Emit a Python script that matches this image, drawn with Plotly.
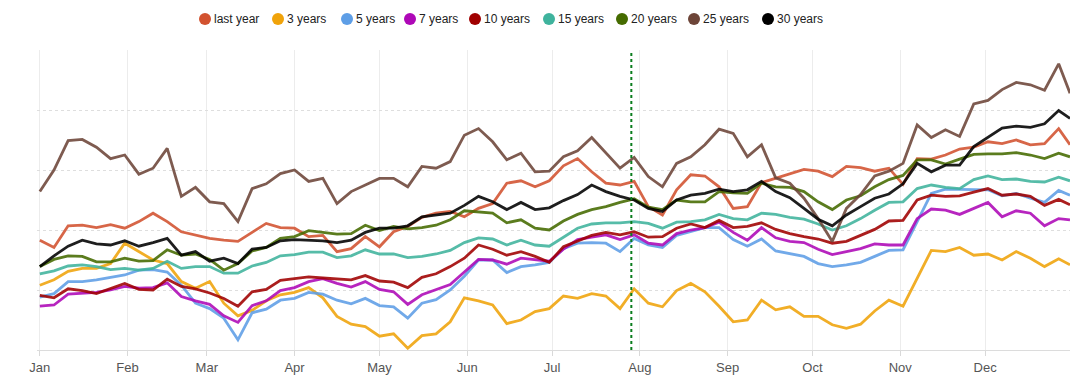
import pandas as pd
import plotly.graph_objects as go

# sample dates: every 5 days from Jan 1, plus Dec 31
dates = list(pd.date_range("2023-01-01", "2023-12-27", freq="5D")) + [pd.Timestamp("2023-12-31")]

last_year = [18.3, 17.1, 20.7, 20.8, 20.4, 20.9, 20.3, 21.4, 22.8, 21.4, 19.7, 19.2, 18.6,
             18.3, 18.1, 19.6, 21.1, 20.4, 20.3, 18.9, 19.1, 16.4, 16.9, 18.9, 17.2,
             19.7, 20.6, 22.1, 22.8, 23.1, 22.2, 23.6, 24.4, 27.8, 28.2, 27.2, 28.2,
             30.7, 31.9, 29.7, 27.8, 27.5, 28.1, 23.9, 22.5, 26.7, 29.2, 29.0, 27.2,
             23.6, 23.9, 27.9, 28.6, 29.3, 30.1, 29.8, 28.9, 30.6, 30.4, 29.8, 30.3,
             27.6, 31.9, 31.8, 32.5, 33.5, 33.8, 34.7, 34.4, 35.0, 34.2, 34.4, 36.9, 34.2]
years_3 = [10.8, 11.7, 13.1, 13.6, 13.6, 14.4, 17.8, 16.4, 15.0, 14.4, 11.4, 10.3, 11.4,
           7.8, 5.7, 6.6, 8.2, 9.2, 9.6, 10.4, 8.7, 5.6, 4.3, 3.9, 2.3,
           2.7, 0.3, 2.4, 2.7, 4.7, 8.7, 8.2, 7.5, 4.4, 5.0, 6.4, 6.9,
           9.0, 8.6, 9.4, 9.0, 6.9, 10.2, 7.8, 7.2, 9.9, 11.1, 9.7, 7.3,
           4.7, 5.0, 8.3, 6.7, 7.2, 5.6, 5.6, 4.2, 3.6, 4.3, 6.5, 8.3,
           7.3, 11.9, 16.6, 16.4, 17.1, 15.8, 16.0, 15.0, 16.4, 15.3, 13.9, 15.2, 14.2]
years_5 = [8.8, 9.4, 11.4, 11.4, 11.7, 12.1, 12.5, 13.3, 13.4, 13.0, 10.8, 7.8, 6.9,
           5.3, 1.7, 6.2, 6.8, 8.3, 8.6, 9.6, 9.3, 8.3, 7.7, 8.6, 7.4,
           7.2, 5.3, 7.8, 8.4, 10.0, 12.3, 15.0, 15.0, 12.9, 13.9, 14.2, 14.6,
           16.9, 17.8, 17.9, 17.8, 16.4, 18.6, 17.5, 17.1, 19.1, 19.8, 20.4, 20.4,
           18.4, 17.3, 18.5, 16.5, 16.1, 15.6, 14.4, 13.9, 14.2, 14.6, 15.6, 16.6,
           16.7, 21.4, 26.1, 26.8, 26.8, 26.7, 26.7, 25.7, 26.1, 25.3, 24.6, 26.6, 25.8]
years_7 = [7.3, 7.5, 9.3, 9.5, 9.6, 10.0, 10.6, 10.3, 10.4, 11.2, 8.9, 8.2, 7.6,
           5.7, 4.6, 7.4, 8.2, 9.9, 10.4, 11.4, 11.9, 11.1, 10.5, 11.4, 10.1,
           9.7, 7.6, 9.2, 10.1, 10.9, 13.0, 15.1, 15.0, 14.3, 15.3, 15.0, 14.8,
           16.8, 18.4, 18.8, 19.2, 18.4, 19.2, 17.8, 17.5, 19.4, 20.0, 20.4, 21.3,
           19.6, 18.3, 20.4, 18.7, 18.1, 17.9, 16.8, 15.9, 16.4, 16.9, 17.7, 17.5,
           17.5, 21.9, 23.5, 23.3, 22.6, 23.6, 24.6, 22.2, 23.2, 22.8, 20.7, 21.9, 21.7]
years_10 = [9.1, 8.7, 10.2, 9.9, 9.4, 10.3, 11.1, 10.1, 10.0, 11.8, 10.6, 10.2, 9.5,
            8.6, 7.3, 9.7, 10.1, 11.6, 11.9, 12.2, 12.0, 11.8, 11.7, 12.4, 11.5,
            11.3, 10.4, 12.1, 12.7, 13.9, 15.3, 17.5, 16.8, 15.8, 16.4, 15.6, 14.6,
            17.2, 18.2, 19.1, 19.6, 19.2, 19.7, 18.8, 18.9, 20.3, 21.0, 20.4, 21.6,
            20.4, 20.6, 21.2, 20.1, 19.4, 18.9, 18.5, 17.8, 18.1, 19.1, 20.1, 21.5,
            21.6, 25.0, 25.8, 25.6, 25.7, 26.3, 26.9, 25.8, 26.0, 25.6, 24.1, 25.1, 24.2]
years_15 = [12.7, 13.2, 14.0, 14.2, 13.9, 13.4, 13.6, 13.3, 13.6, 14.8, 13.6, 13.9, 13.9,
            12.8, 12.8, 14.0, 14.6, 15.7, 15.9, 16.3, 16.3, 15.4, 15.7, 16.7, 16.0,
            16.0, 15.4, 15.6, 16.0, 16.6, 17.9, 18.7, 18.5, 17.5, 18.3, 17.5, 17.3,
            18.8, 20.3, 21.0, 21.2, 21.2, 21.4, 21.1, 20.3, 21.3, 21.4, 21.7, 22.6,
            21.9, 21.7, 22.8, 22.6, 22.1, 21.8, 21.0, 20.0, 20.7, 21.9, 23.3, 24.6,
            24.7, 26.9, 27.5, 27.1, 26.9, 28.4, 29.0, 28.4, 28.5, 28.1, 28.0, 28.8, 28.2]
years_20 = [13.9, 15.1, 15.7, 15.6, 14.7, 14.7, 15.3, 14.8, 14.9, 16.7, 15.8, 16.0, 15.1,
            13.3, 14.4, 16.5, 17.1, 18.6, 18.9, 19.9, 19.6, 19.3, 19.4, 20.8, 19.9,
            20.6, 20.2, 20.4, 20.8, 21.7, 23.2, 23.0, 22.8, 21.2, 21.7, 20.3, 20.0,
            21.5, 22.6, 23.4, 23.9, 24.6, 25.2, 23.8, 23.4, 25.0, 24.7, 24.7, 26.4,
            26.2, 26.1, 27.8, 27.2, 27.1, 26.4, 24.7, 23.4, 25.0, 25.7, 27.2, 28.4,
            29.1, 31.7, 31.7, 31.0, 31.8, 32.6, 32.7, 32.7, 32.9, 32.5, 31.9, 32.8, 32.2]
years_25 = [26.4, 30.0, 34.9, 35.1, 33.8, 31.9, 32.5, 29.3, 30.3, 33.6, 25.6, 27.1, 24.7,
            24.4, 21.4, 26.9, 27.7, 29.4, 30.0, 28.1, 28.6, 24.4, 26.4, 27.5, 28.6,
            28.6, 27.2, 30.6, 30.3, 31.4, 35.8, 36.9, 34.7, 31.7, 32.8, 29.7, 29.8,
            32.2, 33.2, 35.4, 32.8, 30.3, 32.1, 28.9, 27.2, 31.1, 32.2, 34.2, 36.8,
            36.1, 32.2, 34.2, 28.7, 27.8, 25.3, 21.9, 18.1, 23.6, 25.9, 29.0, 29.8,
            31.1, 37.5, 35.4, 36.7, 35.6, 41.0, 41.6, 43.4, 44.6, 44.2, 43.3, 47.7, 42.8]
years_30 = [13.9, 15.7, 17.3, 18.3, 17.7, 17.5, 18.2, 17.3, 17.9, 18.6, 15.8, 16.4, 14.8,
            15.3, 14.4, 16.8, 17.1, 18.2, 18.4, 18.3, 18.2, 17.9, 18.3, 19.6, 20.3,
            20.3, 20.7, 22.2, 22.5, 22.8, 24.1, 25.6, 24.7, 23.4, 24.6, 23.4, 23.7,
            24.9, 25.9, 27.5, 26.4, 25.6, 25.0, 23.6, 23.1, 25.0, 25.8, 26.1, 26.8,
            26.4, 26.7, 28.1, 26.4, 25.4, 23.6, 21.8, 20.7, 22.5, 23.9, 25.3, 26.0,
            27.7, 31.1, 29.7, 30.8, 30.8, 33.9, 35.4, 37.0, 37.3, 37.1, 37.7, 39.9, 38.6]

series_names = ["last year", "3 years", "5 years", "7 years", "10 years",
                "15 years", "20 years", "25 years", "30 years"]
series_values = [last_year, years_3, years_5, years_7, years_10,
                 years_15, years_20, years_25, years_30]
colors = ["#d2522f", "#f0a30a", "#5e9ee6", "#ae08b7", "#a00000",
          "#3fb39d", "#456b00", "#6d4538", "#000000"]
marker_date = "2023-07-29"

# page layout (pixels); the page body adds an 8 px margin around the figure
PAGE = 8
W, H = 1086 - PAGE, 384 - PAGE
PLOT_L, PLOT_R, PLOT_T, PLOT_B = 37, 1070, 50, 350     # plot area in window pixels
ML, MT = PLOT_L - PAGE, PLOT_T - PAGE
MR, MB = W - (PLOT_R - PAGE), H - (PLOT_B - PAGE)
PW, PH = PLOT_R - PLOT_L, PLOT_B - PLOT_T
legend_px = [205, 278, 347, 410, 475, 549, 622, 694, 768]   # legend dot centres
legend_py = 19

fig = go.Figure()
for name, vals, col in zip(series_names, series_values, colors):
    fig.add_trace(go.Scatter(x=dates, y=vals, mode="lines", name=name,
                             line=dict(color=col, width=2.8), opacity=0.88,
                             showlegend=False))

fig.add_shape(type="line", xref="x", yref="paper", x0=marker_date, x1=marker_date,
              y0=0, y1=1, line=dict(color="#0b7d1e", width=2, dash="dot"))

# legend: coloured dots + labels above the plot
ly = (PLOT_B - legend_py) / PH
for name, col, px in zip(series_names, colors, legend_px):
    lx = (px - PLOT_L) / PW
    fig.add_shape(type="circle", xref="paper", yref="paper",
                  xsizemode="pixel", ysizemode="pixel", xanchor=lx, yanchor=ly,
                  x0=-6, x1=6, y0=-6, y1=6, fillcolor=col, line=dict(width=0))
    fig.add_annotation(x=(px + 8 - PLOT_L) / PW, y=ly, xref="paper", yref="paper",
                       text=name, showarrow=False, xanchor="left", yanchor="middle",
                       font=dict(size=12, color="#222"), borderpad=0)

fig.update_layout(
    width=W, height=H,
    margin=dict(l=ML, r=MR, t=MT, b=MB, autoexpand=False),
    paper_bgcolor="white", plot_bgcolor="white",
    font=dict(family="Liberation Sans, Arial, sans-serif", size=12, color="#333"),
    showlegend=False,
)
fig.update_xaxes(range=["2022-12-31", "2023-12-31"], tick0="2023-01-01", dtick="M1",
                 tickformat="%b", ticks="outside", ticklen=5, tickcolor="#d9d9d9",
                 showgrid=True, gridcolor="#ececec", gridwidth=1,
                 showline=True, linecolor="#dcdcdc", linewidth=1,
                 tickfont=dict(size=13, color="#555"), zeroline=False)
fig.update_yaxes(range=[0, 50], dtick=10, showticklabels=False, ticks="",
                 showgrid=True, gridcolor="#dedede", griddash="dot", gridwidth=1,
                 zeroline=False, showline=False)

fig.write_html("out.html")
